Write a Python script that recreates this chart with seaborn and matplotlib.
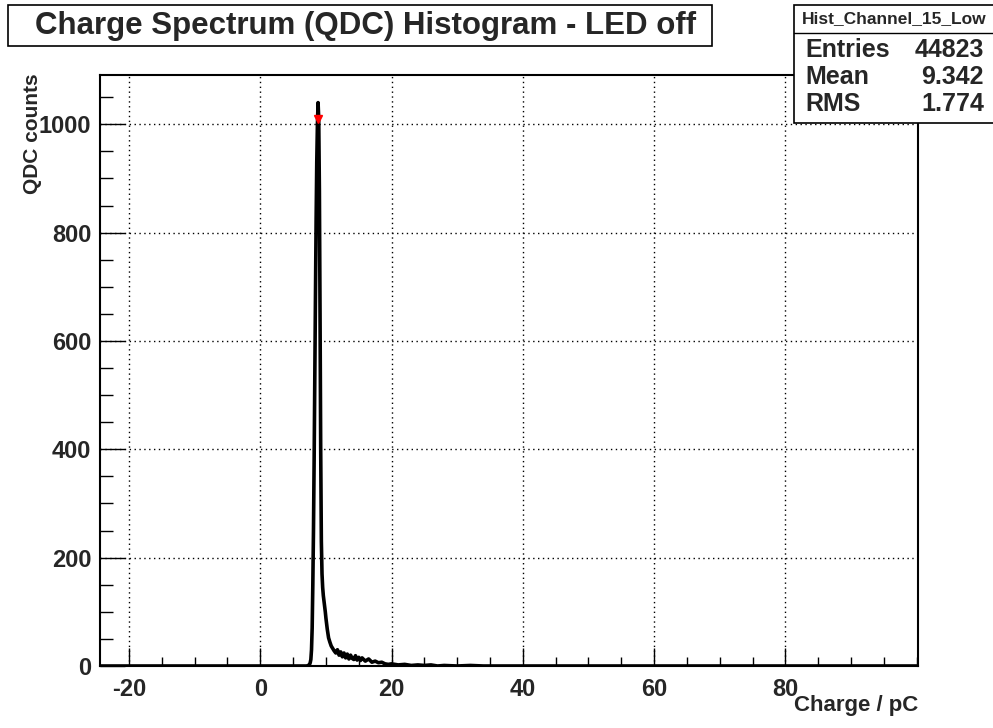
import numpy as np
import pandas as pd
import seaborn as sns
import matplotlib.pyplot as plt
from matplotlib.patches import Rectangle
from matplotlib.ticker import MultipleLocator, FixedLocator

# histogram (bin centre in pC, counts)
charge = [-24.5, 7.0, 7.1, 7.2, 7.3, 7.4, 7.5, 7.6, 7.7, 7.8, 7.9,
          8.0, 8.1, 8.2, 8.3, 8.4, 8.5, 8.6, 8.7, 8.8, 8.9,
          9.0, 9.1, 9.2, 9.3, 9.4, 9.5, 9.6, 9.7, 9.8, 9.9,
          10.0, 10.2, 10.4, 10.6, 10.8, 11.0, 11.25, 11.5, 11.75, 12.0,
          12.25, 12.5, 12.75, 13.0, 13.25, 13.5, 13.75, 14.0, 14.25, 14.5,
          14.75, 15.0, 15.25, 15.5, 15.75, 16.0, 16.5, 17.0, 17.5, 18.0,
          18.5, 19.0, 19.5, 20.0, 21.0, 22.0, 23.0, 24.0, 25.0, 26.0,
          27.0, 28.0, 30.0, 32.0, 34.0, 40.0, 100.0]
counts = [0, 0, 0, 0, 1, 2, 3, 6, 12, 30, 70,
          150, 250, 380, 530, 680, 820, 930, 1000, 1040, 1010,
          880, 650, 400, 230, 170, 145, 130, 120, 110, 100,
          88, 68, 52, 44, 37, 33, 28, 24, 30, 20,
          26, 17, 24, 15, 22, 13, 20, 14, 12, 19,
          11, 16, 10, 15, 12, 9, 13, 7, 9, 6,
          7, 4, 3, 4, 2, 3, 1, 2, 1, 2,
          0, 1, 0, 1, 0, 0, 0]

peak_x = [8.8]
peak_y = [1010]

title = "Charge Spectrum (QDC) Histogram - LED off"
hist_name = "Hist_Channel_15_Low"
stat_names = ["Entries", "Mean", "RMS"]
stat_values = ["44823", "9.342", "1.774"]

df = pd.DataFrame({"charge": charge, "counts": counts})

sns.set_theme(style="white")
plt.rcParams["font.family"] = ["Liberation Sans", "DejaVu Sans"]
plt.rcParams["font.weight"] = "bold"
plt.rcParams["axes.unicode_minus"] = False

W, H = 993, 728
fig = plt.figure(figsize=(W / 100, H / 100), dpi=100)
ax = fig.add_axes([99.5 / W, 1 - 666 / H, (918 - 99.5) / W, (666 - 75) / H])

sns.lineplot(data=df, x="charge", y="counts", color="black", linewidth=2.6,
             ax=ax, estimator=None, sort=False)
ax.plot(peak_x, peak_y, marker="v", color="red", markersize=6, linestyle="none")

ax.set_xlim(-24.5, 100.2)
ax.set_ylim(0, 1091)
ax.xaxis.set_major_locator(FixedLocator([-20, 0, 20, 40, 60, 80]))
ax.xaxis.set_minor_locator(MultipleLocator(5))
ax.yaxis.set_major_locator(MultipleLocator(200))
ax.yaxis.set_minor_locator(MultipleLocator(50))
ax.tick_params(axis="x", which="major", direction="in", length=13, width=1,
               labelsize=17, pad=9, bottom=True, top=False, color="black")
ax.tick_params(axis="x", which="minor", direction="in", length=6.5, width=1,
               bottom=True, top=False, color="black")
ax.tick_params(axis="y", which="major", direction="in", length=18, width=1,
               labelsize=17, pad=6, left=True, right=False, color="black")
ax.tick_params(axis="y", which="minor", direction="in", length=9, width=1,
               left=True, right=False, color="black")
for lab in ax.get_xticklabels() + ax.get_yticklabels():
    lab.set_fontweight("bold")
ax.grid(True, which="major", linestyle=(0, (1, 2.5)), color="black", linewidth=1)
for s in ax.spines.values():
    s.set_color("black")
    s.set_linewidth(1.5)

ax.set_xlabel("")
ax.set_ylabel("")
fig.text(918 / W, 1 - 706 / H, "Charge / pC", ha="right", va="center",
         fontsize=16, fontweight="bold")
fig.text(33 / W, 1 - 73 / H, "QDC counts", ha="center", va="top",
         rotation=90, fontsize=15, fontweight="bold")

# title box
fig.patches.append(Rectangle((8 / W, 1 - 46 / H), (712 - 8) / W, 41 / H,
                             transform=fig.transFigure, facecolor="white",
                             edgecolor="black", linewidth=1.2))
fig.text(366 / W, 1 - 26 / H, title, ha="center", va="center",
         fontsize=22.5, fontweight="bold")

# stats box
fig.patches.append(Rectangle((794 / W, 1 - 123 / H), (1000 - 794) / W, 118 / H,
                             transform=fig.transFigure, facecolor="white",
                             edgecolor="black", linewidth=1.2, zorder=5))
fig.lines.append(plt.Line2D([794 / W, 1], [1 - 33 / H, 1 - 33 / H],
                            transform=fig.transFigure, color="black",
                            linewidth=1, zorder=6))
fig.text(894 / W, 1 - 19 / H, hist_name, ha="center", va="center",
         fontsize=12.5, fontweight="bold", zorder=7)
for i, (n, v) in enumerate(zip(stat_names, stat_values)):
    y = 1 - (50 + 27 * i) / H
    fig.text(805 / W, y, n, ha="left", va="center", fontsize=18,
             fontweight="bold", zorder=7)
    fig.text(984 / W, y, v, ha="right", va="center", fontsize=18,
             fontweight="bold", zorder=7)

fig.savefig("out.png", dpi=100)
